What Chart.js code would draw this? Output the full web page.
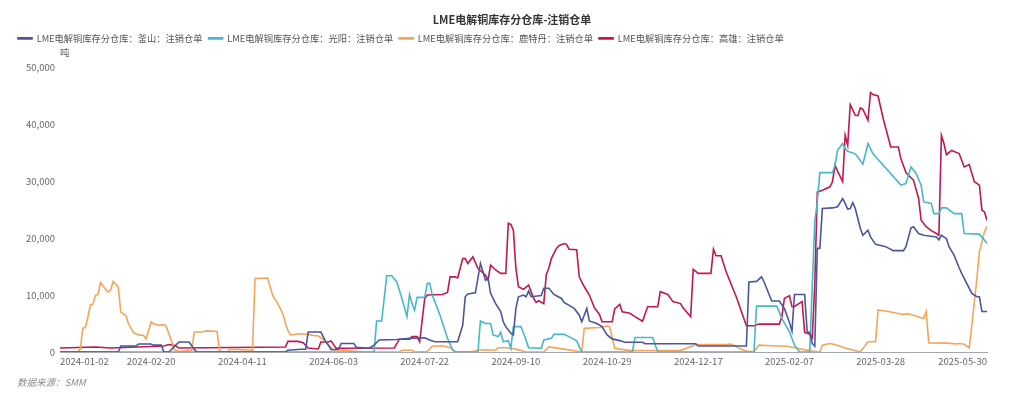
<!DOCTYPE html>
<html>
<head>
<meta charset="utf-8">
<title>LME电解铜库存分仓库-注销仓单</title>
<script src="https://cdn.jsdelivr.net/npm/chart.js@4.4.1/dist/chart.umd.min.js"></script>
<style>
html, body {
	margin: 0;
	padding: 0;
	background: #fff;
}

.chart-container {
	position: relative;
	width: 1024px;
	height: 399px;
}
</style>
</head>
<body>
	<div class="chart-container">
		<canvas id="chart"></canvas>
	</div>
	<script>
		// x = trading-day index from 2024-01-02, y = tonnes
		const tickIdx = [0, 36, 72, 108, 144, 180, 216, 252, 288, 324, 366];
		const tickLabels = ['2024-01-02', '2024-02-20', '2024-04-11', '2024-06-03', '2024-07-22', '2024-09-10',
			'2024-10-29', '2024-12-17', '2025-02-07', '2025-03-28', '2025-05-30'];

		const seriesNames = [
			'LME电解铜库存分仓库：釜山：注销仓单',
			'LME电解铜库存分仓库：光阳：注销仓单',
			'LME电解铜库存分仓库：鹿特丹：注销仓单',
			'LME电解铜库存分仓库：高雄：注销仓单'
		];

		const busan = [[0,0],[23,0],[24,1050],[30,1050],[31,1400],[36,1400],[37,1200],[40,1200],[41,0],[43,0],[45,900],[47,1750],[51,1750],[53,450],[54,0],[89,0],[90,300],[95,470],[97,500],[98,3500],[103,3500],[105,1750],[106,1200],[107,400],[110,470],[111,1500],[116,1500],[117,820],[122,650],[124,1200],[126,2100],[133,2200],[138,2400],[144,2500],[146,2100],[148,1800],[157,1800],[159,4700],[160,9700],[161,10200],[164,10400],[166,15550],[168,12600],[169,13000],[170,10300],[172,8500],[174,7100],[175,5300],[176,4450],[178,3300],[179,3000],[180,7650],[181,9700],[183,10000],[184,9700],[185,10700],[186,9700],[190,9900],[191,11200],[193,11200],[195,10100],[198,9400],[199,8700],[203,7650],[205,6500],[206,5300],[208,7650],[209,5450],[212,5000],[214,4450],[216,3000],[218,2300],[221,2000],[223,1700],[230,1700],[231,1450],[251,1450],[252,1050],[271,1050],[272,12300],[275,12400],[277,13200],[278,12300],[281,8950],[284,8950],[286,7650],[288,5200],[289,3700],[290,10100],[294,10100],[295,3550],[296,3400],[297,1500],[298,1000],[299,18200],[300,18200],[301,25200],[305,25300],[307,25500],[309,26950],[310,26100],[311,25100],[312,25200],[313,26250],[314,25200],[316,21700],[317,20500],[319,21400],[320,20200],[322,18900],[326,18500],[329,17800],[333,17800],[334,18500],[336,21800],[337,22000],[339,20800],[341,20500],[346,20200],[347,19700],[348,20500],[350,19900],[351,18500],[353,17000],[355,14800],[356,13800],[358,12050],[360,10300],[362,9700],[363,9700],[364,7100],[366,7100]];

		const gwangyang = [[0,0],[124,0],[125,5450],[127,5450],[129,13400],[131,13400],[133,12300],[135,9400],[137,6200],[138,10100],[139,8500],[140,7350],[141,9600],[144,9600],[145,12050],[146,12050],[147,10000],[150,6500],[153,2400],[155,350],[156,0],[165,0],[166,5450],[168,5000],[170,5000],[171,3000],[173,2700],[174,3450],[175,1800],[177,2000],[178,650],[179,4450],[182,4450],[183,3300],[184,2100],[185,750],[190,650],[191,2100],[194,2400],[195,3100],[199,3100],[201,2700],[204,1950],[206,0],[226,0],[227,2550],[234,2550],[236,0],[274,0],[275,8050],[283,8050],[285,5900],[288,3550],[290,1200],[292,0],[296,0],[298,22850],[299,26350],[300,31500],[305,31500],[306,32800],[307,35400],[309,36600],[310,35700],[311,35250],[314,34800],[317,33000],[319,36600],[321,34800],[332,29300],[334,29600],[336,32500],[338,31350],[340,29300],[341,26350],[344,26100],[345,24300],[347,24300],[348,25300],[350,25300],[353,24300],[356,24300],[357,20800],[363,20700],[366,19100]];

		const rotterdam = [[0,0],[7,0],[8,500],[9,4200],[10,4300],[11,6100],[12,8300],[13,8400],[14,9900],[15,10100],[16,12200],[17,11600],[19,10500],[20,10900],[21,12400],[23,11400],[24,7000],[26,6400],[27,5000],[29,3400],[31,3000],[33,2900],[34,2300],[36,5300],[37,4900],[39,4700],[41,4800],[42,4400],[44,2000],[45,470],[47,100],[52,300],[53,3500],[56,3500],[58,3700],[62,3600],[63,300],[64,0],[66,0],[67,470],[76,300],[77,12900],[82,13000],[84,9900],[86,8500],[88,6700],[89,5000],[90,3800],[91,3000],[95,3200],[98,3100],[100,2900],[102,2800],[104,2200],[106,1200],[108,400],[112,300],[119,0],[134,0],[135,300],[139,300],[140,0],[145,100],[147,1000],[151,1100],[154,750],[156,100],[162,0],[165,300],[168,400],[172,300],[173,750],[176,750],[180,500],[184,0],[191,0],[193,900],[199,500],[206,0],[207,4150],[213,4300],[216,4550],[217,4450],[219,700],[221,500],[226,250],[245,250],[251,1300],[263,1300],[265,1400],[268,700],[271,150],[274,0],[276,1200],[281,1100],[287,1000],[291,650],[296,200],[300,0],[301,1200],[304,1500],[306,1300],[310,700],[316,0],[319,1800],[322,1800],[323,7400],[327,7100],[333,6600],[335,6700],[341,5900],[342,7100],[343,1600],[350,1550],[354,1400],[355,1500],[357,1350],[359,750],[360,4700],[362,12900],[363,17600],[365,21100],[366,22000]];

		const kaohsiung = [[0,700],[14,880],[20,700],[41,1050],[43,1300],[45,1200],[47,700],[89,880],[90,1870],[94,1870],[96,1650],[98,700],[102,530],[103,1750],[106,1750],[107,1950],[108,1300],[109,650],[132,700],[134,2250],[138,2250],[139,2700],[141,2700],[142,1800],[144,9400],[145,10000],[151,10100],[153,10450],[154,13200],[156,13200],[157,13000],[159,16400],[160,16400],[161,15550],[163,16700],[165,14700],[168,13500],[169,12600],[170,15250],[172,14400],[174,13800],[176,13800],[177,22600],[178,22400],[179,21400],[180,14700],[181,11450],[183,11000],[185,11750],[186,10600],[187,9400],[188,8700],[189,9000],[191,8500],[192,13600],[193,14700],[194,16400],[196,18200],[197,18650],[199,19050],[200,18900],[201,18050],[204,17950],[205,13200],[207,11450],[209,10000],[211,7750],[213,6600],[214,5300],[218,5300],[219,7550],[221,8350],[222,7050],[225,6800],[227,6200],[230,5400],[232,7950],[236,7950],[237,10600],[240,10100],[242,8850],[245,8500],[246,7750],[249,6200],[250,14500],[252,13800],[257,13800],[258,18050],[259,16900],[261,16900],[263,14100],[267,9700],[271,4600],[274,4600],[276,4900],[284,4900],[285,6200],[286,9400],[288,9900],[289,7950],[290,8000],[293,8850],[294,3450],[296,3100],[297,2500],[298,11750],[299,28100],[301,28400],[304,29000],[305,29900],[306,32800],[307,31750],[309,29900],[310,38050],[311,36300],[312,43450],[314,41550],[315,41500],[316,42850],[317,42600],[319,40700],[320,45550],[321,45200],[323,44950],[325,41000],[328,36000],[331,36000],[332,33950],[334,31500],[337,30150],[339,26950],[340,23150],[342,22000],[344,21300],[346,20800],[347,20500],[348,38050],[349,36600],[350,34650],[352,35400],[355,34850],[357,32500],[359,32900],[361,29900],[363,29300],[364,24900],[365,24600],[366,23150]];

		const seriesData = [busan, gwangyang, rotterdam, kaohsiung];
		const colors = ['#4a569d', '#45b8cc', '#f5a55a', '#c2174f'];
		const sourceText = '数据来源：SMM';
		const fontFamily = '"Noto Sans CJK SC", sans-serif';

		const sourceNote = {
			id: 'sourceNote',
			afterDraw(chart) {
				const ctx = chart.ctx;
				ctx.save();
				ctx.font = 'italic 9.5px ' + fontFamily;
				ctx.fillStyle = '#8c8c8c';
				ctx.textBaseline = 'middle';
				ctx.fillText(sourceText, 17, 382);
				ctx.restore();
			}
		};

		const ctx = document.getElementById('chart').getContext('2d');
		const myChart = new Chart(ctx, {
			type: 'line',
			data: {
				datasets: seriesData.map((pts, i) => ({
					label: seriesNames[i],
					data: pts.map(p => ({x: p[0], y: p[1]})),
					borderColor: colors[i],
					backgroundColor: colors[i],
					borderWidth: 1.6,
					pointRadius: 0,
					tension: 0,
					fill: false
				}))
			},
			options: {
				responsive: true,
				maintainAspectRatio: false,
				animation: false,
				events: [],
				layout: {
					padding: {left: 12, right: 12, top: 0, bottom: 27.6}
				},
				plugins: {
					title: {
						display: true,
						text: 'LME电解铜库存分仓库-注销仓单',
						color: '#333',
						font: {family: fontFamily, size: 11, weight: 'bold'},
						padding: {top: 13, bottom: 1.5}
					},
					legend: {
						display: true,
						position: 'top',
						align: 'start',
						labels: {
							boxWidth: 14,
							boxHeight: 1,
							padding: 6,
							color: '#555',
							font: {family: fontFamily, size: 9.25}
						}
					},
					subtitle: {
						display: true,
						text: '吨',
						position: 'top',
						weight: 500,
						fullSize: false,
						align: 'start',
						color: '#666',
						font: {family: fontFamily, size: 9.5, weight: 'normal'},
						padding: {top: -6.2, bottom: 9.1}
					},
					tooltip: {enabled: false}
				},
				scales: {
					x: {
						type: 'linear',
						min: 0,
						max: 366,
						grid: {display: false, drawTicks: false},
						border: {display: true, color: '#a3a7ae', width: 1},
						afterBuildTicks: scale => {
							scale.ticks = tickIdx.map(v => ({value: v}));
						},
						ticks: {
							autoSkip: false,
							maxRotation: 0,
							align: 'inner',
							padding: 4,
							color: '#666',
							font: {family: fontFamily, size: 9.5},
							callback: value => tickLabels[tickIdx.indexOf(value)]
						}
					},
					y: {
						min: 0,
						max: 50000,
						grid: {display: false, drawTicks: false},
						border: {display: false},
						afterFit: scale => { scale.width = 48; },
						ticks: {
							stepSize: 10000,
							padding: 5,
							color: '#666',
							font: {family: fontFamily, size: 9.5}
						}
					},
					yRight: {
						type: 'linear',
						position: 'right',
						display: true,
						grid: {display: false, drawTicks: false},
						border: {display: false},
						ticks: {display: false},
						afterFit: scale => { scale.width = 25; }
					}
				}
			},
			plugins: [sourceNote]
		});
	</script>
</body>
</html>
